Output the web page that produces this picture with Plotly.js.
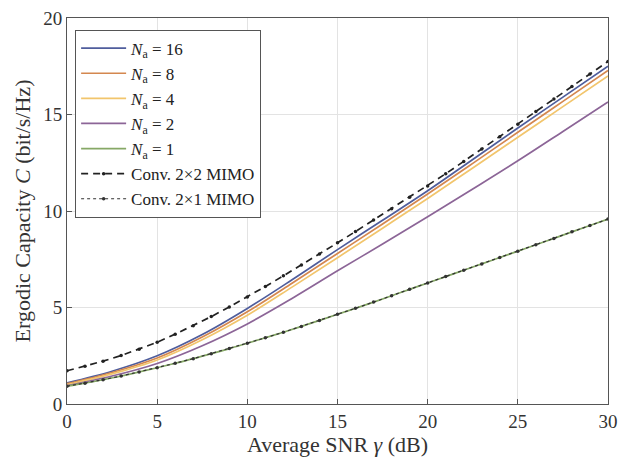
<!DOCTYPE html>
<html>
<head>
<meta charset="utf-8">
<script src="https://cdn.plot.ly/plotly-3.0.1.min.js"></script>
<style>html,body{margin:0;padding:0;background:#fff;}#chart{width:618px;height:458px;}</style>
</head>
<body>
<div id="chart"></div>
<script>
// SNR grid (dB)
var snrFine = [0,1,2,3,4,5,6,7,8,9,10,11,12,13,14,15,16,17,18,19,20,21,22,23,24,25,26,27,28,29,30];
var snrCoarse = [0,2.5,5,7.5,10,12.5,15,17.5,20,22.5,25,27.5,30];

// Conventional MIMO curves (bit/s/Hz)
var conv2x2 = [1.72,1.96,2.22,2.51,2.84,3.20,3.62,4.06,4.53,5.03,5.55,6.09,6.64,7.20,7.77,8.35,8.94,9.53,10.12,10.71,11.30,11.93,12.57,13.21,13.85,14.50,15.15,15.80,16.45,17.10,17.75];
var conv2x1 = [0.92,1.08,1.26,1.45,1.66,1.88,2.11,2.35,2.61,2.87,3.15,3.43,3.72,4.02,4.33,4.65,4.96,5.28,5.61,5.94,6.27,6.60,6.93,7.26,7.59,7.92,8.25,8.58,8.92,9.25,9.58];

// N_a curves
var na16 = [1.10,1.70,2.50,3.60,4.95,6.45,8.00,9.52,11.05,12.67,14.30,15.90,17.50];
var na8  = [1.05,1.63,2.38,3.47,4.78,6.27,7.80,9.33,10.88,12.47,14.08,15.68,17.28];
var na4  = [1.00,1.56,2.28,3.33,4.60,6.07,7.58,9.11,10.65,12.23,13.82,15.41,17.00];
var na2  = [0.95,1.45,2.10,3.02,4.15,5.48,6.90,8.29,9.70,11.14,12.60,14.12,15.65];
var na1  = conv2x1;

var labels = ['<i>N</i><sub>a</sub> = 16','<i>N</i><sub>a</sub> = 8','<i>N</i><sub>a</sub> = 4','<i>N</i><sub>a</sub> = 2','<i>N</i><sub>a</sub> = 1','Conv. 2×2 MIMO','Conv. 2×1 MIMO'];
var colors = ['#4f5d9c','#d4874f','#f2c56c','#8c6597','#86a866','#222222','#333333'];

function solid(x,y,i){
  return {x:x,y:y,name:labels[i],mode:'lines',type:'scatter',
    line:{color:colors[i],width:1.7,shape:'spline',smoothing:1}};
}
var traces = [
  solid(snrCoarse,na16,0),
  solid(snrCoarse,na8,1),
  solid(snrCoarse,na4,2),
  solid(snrCoarse,na2,3),
  solid(snrFine,na1,4),
  {x:snrFine,y:conv2x2,name:labels[5],mode:'lines+markers',type:'scatter',
   line:{color:colors[5],width:1.7,dash:'7px,5px'},marker:{size:3.5,color:colors[5]}},
  {x:snrFine,y:conv2x1,name:labels[6],mode:'lines+markers',type:'scatter',
   line:{color:colors[6],width:1.2,dash:'dot'},marker:{size:3.5,color:colors[6]}}
];

var fontFam = '"Liberation Serif", "Times New Roman", serif';
var layout = {
  width:618,height:458,
  margin:{l:67,r:10,t:18,b:54},
  paper_bgcolor:'#fff',plot_bgcolor:'#fff',
  font:{family:fontFam,size:18,color:'#333'},
  showlegend:true,
  xaxis:{range:[0,30],dtick:5,tick0:0,showgrid:true,gridcolor:'#e3e3e3',gridwidth:1,
    zeroline:false,showline:true,linecolor:'#555',linewidth:1,mirror:true,
    ticks:'inside',ticklen:5,tickcolor:'#555',tickfont:{size:19,family:fontFam,color:'#333'},
    title:{text:'Average SNR <i>γ</i> (dB)',font:{size:22,family:fontFam,color:'#333'},standoff:0}},
  yaxis:{range:[0,20],dtick:5,tick0:0,showgrid:true,gridcolor:'#e3e3e3',gridwidth:1,
    zeroline:false,showline:true,linecolor:'#555',linewidth:1,mirror:true,
    ticks:'inside',ticklen:5,tickcolor:'#555',tickfont:{size:19,family:fontFam,color:'#333'},
    title:{text:'Ergodic Capacity <i>C</i> (bit/s/Hz)',font:{size:22,family:fontFam,color:'#333'},standoff:6}},
  legend:{x:0.015,y:0.97,xanchor:'left',yanchor:'top',bgcolor:'#fff',bordercolor:'#555',borderwidth:1,
    font:{size:17,family:fontFam,color:'#222'},itemwidth:45,tracegroupgap:0}
};
Plotly.newPlot('chart',traces,layout,{displayModeBar:false,staticPlot:true});
</script>
</body>
</html>
